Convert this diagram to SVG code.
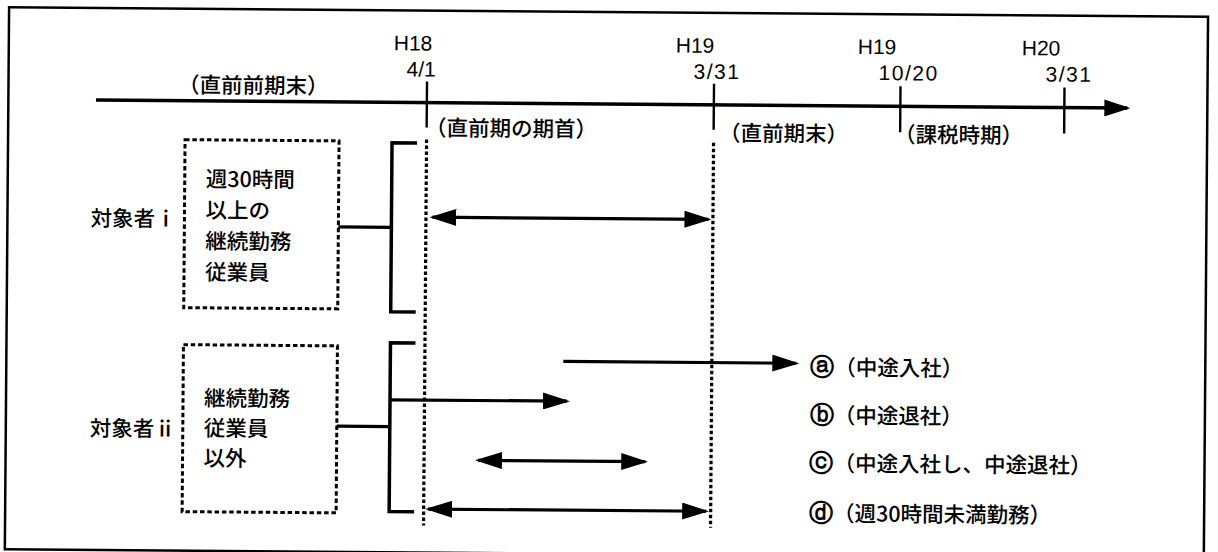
<svg xmlns="http://www.w3.org/2000/svg" width="1218" height="552" viewBox="0 0 1218 552">
  <style>
    .jp { font-family: "Noto Sans CJK JP", "Noto Sans CJK SC", sans-serif; font-size: 21.5px; font-weight: 500; fill: #000; }
    .lat { font-family: "Liberation Sans", Arial, sans-serif; font-size: 21px; fill: #000; }
    .date { letter-spacing: 1.5px; }
    .circ { font-family: "DejaVu Sans", sans-serif; font-size: 24px; font-weight: bold; }
    .solid { stroke: #000; fill: none; stroke-width: 3.2; }
    .thick { stroke: #000; fill: none; stroke-width: 3.5; }
    .tick { stroke: #000; fill: none; stroke-width: 2.4; }
    .dotv { stroke: #000; fill: none; stroke-width: 3.2; stroke-dasharray: 3.5 2.5; }
    .dbox { stroke: #000; fill: none; stroke-width: 3; stroke-dasharray: 4.5 2.8; }
    .frame { stroke: #000; fill: #fff; stroke-width: 2.5; }
  </style>
  <defs>
    <marker id="ah" viewBox="0 0 27 17" refX="24" refY="8.5" markerWidth="27" markerHeight="17" markerUnits="userSpaceOnUse" orient="auto-start-reverse">
      <path d="M0,0 L27,8.5 L0,17 z" fill="#000"/>
    </marker>
    <marker id="ahT" viewBox="0 0 26 17" refX="23" refY="8.5" markerWidth="26" markerHeight="17" markerUnits="userSpaceOnUse" orient="auto">
      <path d="M0,0 L26,8.5 L0,17 z" fill="#000"/>
    </marker>
  </defs>
  <rect width="1218" height="552" fill="#fff"/>
  <g transform="rotate(0.45 609 276)">
    <rect id="frame" class="frame" x="7" y="12" width="1199" height="542"/>

    <g id="timeline">
      <path class="thick" d="M94.6,104 H1126" marker-end="url(#ahT)"/>
      <path class="tick" d="M425.5,83 V129 M712.5,83 V129 M899,84 V130 M1063,84 V130"/>
      <text class="lat" x="392" y="52">H18</text>
      <text class="lat" x="405" y="78">4/1</text>
      <text class="lat" x="674" y="52">H19</text>
      <text class="lat date" x="692" y="78">3/31</text>
      <text class="lat" x="856" y="52">H19</text>
      <text class="lat date" x="877" y="78">10/20</text>
      <text class="lat" x="1020" y="52">H20</text>
      <text class="lat date" x="1044" y="78">3/31</text>
      <text class="jp" x="176.5" y="96">（直前前期末）</text>
      <text class="jp" x="424" y="137">（直前期の期首）</text>
      <text class="jp" x="718" y="140">（直前期末）</text>
      <text class="jp" x="893" y="140">（課税時期）</text>
      <path class="dotv" d="M425.5,141 V527 M712.5,142 V527"/>
    </g>

    <g id="node-target-i">
      <text class="jp" x="90" y="230">対象者ⅰ</text>
      <rect class="dbox" x="184" y="143" width="154" height="168"/>
      <text class="jp" x="205" y="190">週30時間</text>
      <text class="jp" x="205" y="221">以上の</text>
      <text class="jp" x="205" y="252">継続勤務</text>
      <text class="jp" x="205" y="283">従業員</text>
    </g>

    <g id="node-target-ii">
      <text class="jp" x="91" y="440">対象者ⅱ</text>
      <rect class="dbox" x="184" y="348" width="154" height="167"/>
      <text class="jp" x="205" y="409">継続勤務</text>
      <text class="jp" x="205" y="439">従業員</text>
      <text class="jp" x="205" y="469">以外</text>
    </g>

    <g id="legend">
      <text class="jp" x="811" y="373.5"><tspan class="circ">ⓐ</tspan>（中途入社）</text>
      <text class="jp" x="811" y="421.5"><tspan class="circ">ⓑ</tspan>（中途退社）</text>
      <text class="jp" x="811" y="469.5"><tspan class="circ">ⓒ</tspan>（中途入社し、中途退社）</text>
      <text class="jp" x="811" y="519.5"><tspan class="circ">ⓓ</tspan>（週30時間未満勤務）</text>
    </g>

    <g id="connectors">
      <path class="solid" d="M338,229 H391"/>
      <path class="thick" d="M416,144.5 H391 V313.5 H416"/>
      <path class="solid" d="M338,428.3 H391"/>
      <path class="thick" d="M416,344.6 H391 V513.3 H416"/>
      <path class="solid" d="M432,218.6 H708" marker-start="url(#ah)" marker-end="url(#ah)"/>
      <path class="solid" d="M564,361.8 H797" marker-end="url(#ah)"/>
      <path class="solid" d="M391,401.5 H568" marker-end="url(#ah)"/>
      <path class="solid" d="M479.4,461.4 H646.7" marker-start="url(#ah)" marker-end="url(#ah)"/>
      <path class="solid" d="M430,510.5 H708" marker-start="url(#ah)" marker-end="url(#ah)"/>
    </g>
  </g>
</svg>
